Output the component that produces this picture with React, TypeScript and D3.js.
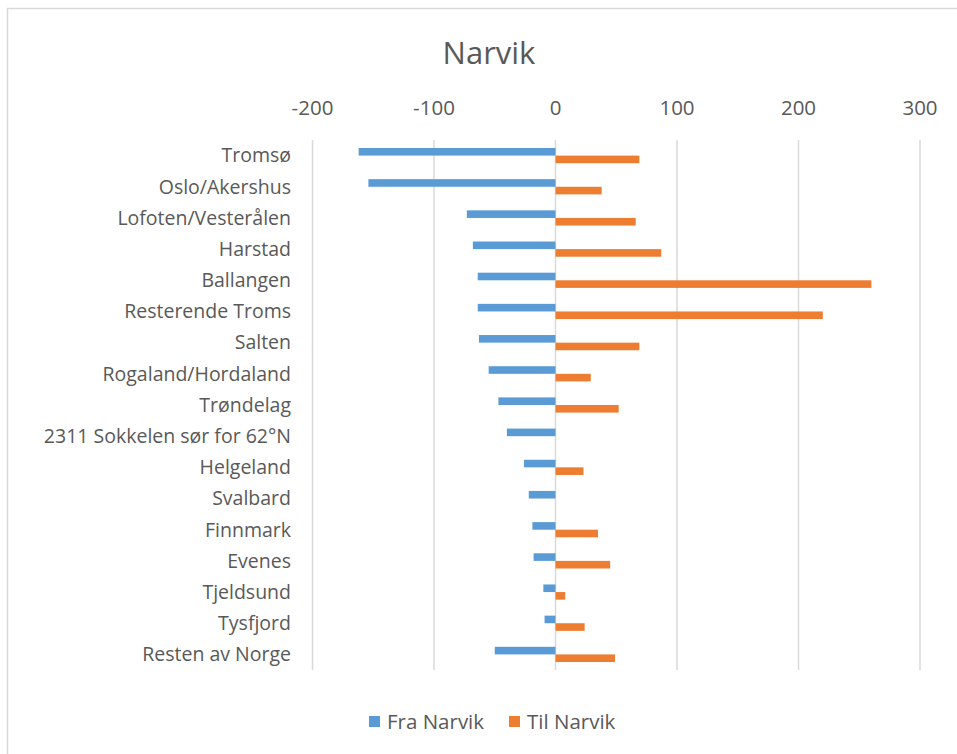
import React from "react";
import * as d3 from "d3";

const categories = [
  "Tromsø",
  "Oslo/Akershus",
  "Lofoten/Vesterålen",
  "Harstad",
  "Ballangen",
  "Resterende Troms",
  "Salten",
  "Rogaland/Hordaland",
  "Trøndelag",
  "2311 Sokkelen sør for 62°N",
  "Helgeland",
  "Svalbard",
  "Finnmark",
  "Evenes",
  "Tjeldsund",
  "Tysfjord",
  "Resten av Norge",
];
const fraNarvik = [-162, -154, -73, -68, -64, -64, -63, -55, -47, -40, -26, -22, -19, -18, -10, -9, -50];
const tilNarvik = [69, 38, 66, 87, 260, 220, 69, 29, 52, 0, 23, 0, 35, 45, 8, 24, 49];
const ticks = [-200, -100, 0, 100, 200, 300];
const seriesNames = ["Fra Narvik", "Til Narvik"];
const colors = ["#5B9BD5", "#ED7D31"];

const FONT = "'Open Sans', Lato, sans-serif";
const TEXT = "#595959";

export default function App() {
  const x = d3.scaleLinear().domain([-200, 300]).range([312.5, 920]);
  const y = d3.scaleBand<string>().domain(categories).range([140, 670]).padding(0);
  const barH = 7.6;

  return (
    <div style={{ position: "absolute", left: 0, top: 0 }}>
      <svg width={957} height={754} style={{ display: "block", background: "#fff" }}>
        <rect x={7.5} y={8.5} width={1000} height={1000} fill="#fff" stroke="#d9d9d9" strokeWidth={1.5} />
        <text x={489} y={64} textAnchor="middle" fontFamily={FONT} fontSize={31} fill={TEXT}>
          Narvik
        </text>
        {ticks.map((t) => (
          <g key={t}>
            <line x1={x(t)} x2={x(t)} y1={140} y2={670} stroke="#d9d9d9" strokeWidth={1.5} />
            <text x={x(t)} y={115} textAnchor="middle" fontFamily={FONT} fontSize={20.5} fill={TEXT}>
              {t}
            </text>
          </g>
        ))}
        {categories.map((c, i) => {
          const cy = (y(c) as number) + y.bandwidth() / 2;
          const f = fraNarvik[i];
          const tv = tilNarvik[i];
          return (
            <g key={c}>
              <text x={291} y={cy} dy="0.35em" textAnchor="end" fontFamily={FONT} fontSize={19.5} fill={TEXT}>
                {c}
              </text>
              <rect x={x(Math.min(0, f))} y={cy - barH} width={Math.abs(x(f) - x(0))} height={barH} fill={colors[0]} />
              {tv !== 0 && (
                <rect x={x(0)} y={cy} width={Math.abs(x(tv) - x(0))} height={barH} fill={colors[1]} />
              )}
            </g>
          );
        })}
        {seriesNames.map((s, i) => {
          const lx = i === 0 ? 369 : 509;
          return (
            <g key={s}>
              <rect x={lx} y={716} width={11} height={11} fill={colors[i]} />
              <text x={lx + 18} y={721.5} dy="0.35em" fontFamily={FONT} fontSize={20.5} fill={TEXT}>
                {s}
              </text>
            </g>
          );
        })}
      </svg>
    </div>
  );
}
